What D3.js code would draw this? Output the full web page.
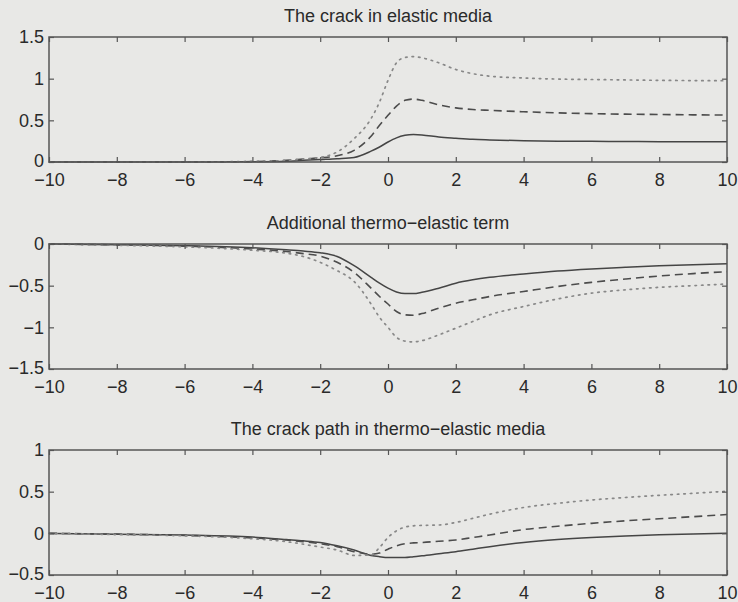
<!DOCTYPE html>
<html>
<head>
<meta charset="utf-8">
<script src="https://cdn.jsdelivr.net/npm/d3@7"></script>
<style>
  body { margin: 0; background: #e8e8e6; }
  svg { display: block; }
  text { font-family: "Liberation Sans", Arial, sans-serif; font-size: 18px; fill: #2a2a2a; }
</style>
</head>
<body>
<div id="chart"></div>
<script>
'use strict';

// sample positions along the crack (x)
const xs = [-10, -8, -6, -4, -3, -2.5, -2, -1.5, -1, -0.5, -0.25, 0, 0.25, 0.5, 0.75, 1, 1.5, 2, 2.5, 3, 4, 5, 6, 7, 8, 9, 10];

// panel 1: the crack in elastic media
const elasticSolid  = [0, 0, 0, 0.003, 0.01, 0.02, 0.03, 0.04, 0.055, 0.13, 0.18, 0.24, 0.29, 0.32, 0.33, 0.325, 0.3, 0.285, 0.272, 0.265, 0.255, 0.25, 0.248, 0.246, 0.244, 0.243, 0.242];
const elasticDashed = [0, 0, 0, 0.005, 0.02, 0.035, 0.05, 0.075, 0.14, 0.31, 0.44, 0.56, 0.67, 0.74, 0.755, 0.74, 0.685, 0.65, 0.63, 0.62, 0.603, 0.59, 0.58, 0.574, 0.57, 0.566, 0.563];
const elasticDotted = [0, 0, 0, 0.008, 0.02, 0.035, 0.055, 0.12, 0.28, 0.52, 0.72, 0.98, 1.19, 1.255, 1.265, 1.25, 1.19, 1.11, 1.06, 1.03, 1.008, 0.995, 0.99, 0.985, 0.98, 0.977, 0.975];

// panel 2: additional thermo-elastic term
const thermoSolid  = [0, -0.01, -0.02, -0.045, -0.07, -0.085, -0.105, -0.15, -0.26, -0.4, -0.47, -0.53, -0.575, -0.595, -0.595, -0.58, -0.53, -0.47, -0.43, -0.4, -0.36, -0.325, -0.3, -0.28, -0.262, -0.248, -0.236];
const thermoDashed = [0, -0.01, -0.025, -0.06, -0.09, -0.115, -0.145, -0.22, -0.34, -0.53, -0.63, -0.72, -0.81, -0.85, -0.855, -0.835, -0.77, -0.71, -0.67, -0.63, -0.57, -0.51, -0.46, -0.42, -0.384, -0.355, -0.332];
const thermoDotted = [0, -0.015, -0.035, -0.075, -0.11, -0.15, -0.22, -0.32, -0.45, -0.72, -0.88, -1.0, -1.12, -1.165, -1.175, -1.16, -1.09, -1.01, -0.93, -0.85, -0.75, -0.66, -0.59, -0.55, -0.52, -0.5, -0.48];

// panel 3: the crack path in thermo-elastic media
const pathSolid  = [0, -0.01, -0.02, -0.045, -0.075, -0.09, -0.11, -0.15, -0.2, -0.265, -0.28, -0.29, -0.29, -0.29, -0.28, -0.27, -0.245, -0.22, -0.19, -0.16, -0.11, -0.075, -0.05, -0.032, -0.018, -0.008, 0];
const pathDashed = [0, -0.01, -0.025, -0.055, -0.08, -0.1, -0.125, -0.16, -0.22, -0.25, -0.235, -0.19, -0.15, -0.125, -0.115, -0.11, -0.095, -0.08, -0.05, -0.02, 0.045, 0.085, 0.12, 0.15, 0.175, 0.2, 0.226];
const pathDotted = [0, -0.015, -0.03, -0.065, -0.1, -0.13, -0.165, -0.2, -0.265, -0.26, -0.17, -0.05, 0.03, 0.075, 0.09, 0.095, 0.1, 0.13, 0.18, 0.23, 0.31, 0.36, 0.4, 0.43, 0.456, 0.48, 0.505];

const titles = ['The crack in elastic media', 'Additional thermo\u2212elastic term', 'The crack path in thermo\u2212elastic media'];
const xTicks = [-10, -8, -6, -4, -2, 0, 2, 4, 6, 8, 10];
const yTicks1 = [0, 0.5, 1, 1.5];
const yTicks2 = [-1.5, -1, -0.5, 0];
const yTicks3 = [-0.5, 0, 0.5, 1];

const width = 738, height = 602;
const left = 49, right = 727, plotH = 125;
const tops = [37, 244, 450];

const panels = [
  { title: titles[0], yTicks: yTicks1, series: [elasticSolid, elasticDashed, elasticDotted] },
  { title: titles[1], yTicks: yTicks2, series: [thermoSolid, thermoDashed, thermoDotted] },
  { title: titles[2], yTicks: yTicks3, series: [pathSolid, pathDashed, pathDotted] },
];

const styles = [
  { color: '#454545', dash: null, w: 1.5 },
  { color: '#4c4c4c', dash: '8,5', w: 1.6 },
  { color: '#888', dash: '1.5,5', w: 1.7 },
];

function fmt(v) {
  return String(v).replace('-', '\u2212');
}

let svg = d3.select('#chart').append('svg')
  .attr('width', width)
  .attr('height', height);

let x = d3.scaleLinear().domain([-10, 10]).range([left, right]);

panels.forEach((p, i) => {
  let top = tops[i];
  let y = d3.scaleLinear()
    .domain(d3.extent(p.yTicks))
    .range([top + plotH, top]);

  let g = svg.append('g');

  // title
  g.append('text')
    .attr('x', (left + right) / 2)
    .attr('y', top - 15)
    .attr('text-anchor', 'middle')
    .text(p.title);

  // curves
  let line = d3.line()
    .x((d, k) => x(xs[k]))
    .y((d) => y(d))
    .curve(d3.curveMonotoneX);

  p.series.forEach((s, k) => {
    g.append('path')
      .datum(s)
      .attr('d', line)
      .attr('fill', 'none')
      .attr('stroke', styles[k].color)
      .attr('stroke-width', styles[k].w)
      .attr('stroke-dasharray', styles[k].dash)
      .attr('stroke-linecap', k == 2 ? 'round' : 'butt');
  });

  // axes: ticks pointing inwards on all four sides
  let bottomAxis = d3.axisBottom(x).tickValues(xTicks).tickSizeInner(-5).tickSizeOuter(0).tickFormat(fmt);
  let topAxis = d3.axisTop(x).tickValues(xTicks).tickSizeInner(-5).tickSizeOuter(0).tickFormat('');
  let leftAxis = d3.axisLeft(y).tickValues(p.yTicks).tickSizeInner(-5).tickSizeOuter(0).tickFormat(fmt);
  let rightAxis = d3.axisRight(y).tickValues(p.yTicks).tickSizeInner(-5).tickSizeOuter(0).tickFormat('');

  let bx = g.append('g').attr('transform', 'translate(0,' + (top + plotH) + ')').call(bottomAxis);
  bx.selectAll('text').attr('y', 18).attr('dy', '0.32em');
  g.append('g').attr('transform', 'translate(0,' + top + ')').call(topAxis);
  let ly = g.append('g').attr('transform', 'translate(' + left + ',0)').call(leftAxis);
  ly.selectAll('text').attr('x', -5);
  // lowest y label sits right above the -10 label, lift it a touch
  ly.selectAll('.tick:first-of-type text').attr('dy', '0.25em');
  g.append('g').attr('transform', 'translate(' + right + ',0)').call(rightAxis);

  g.selectAll('.domain').remove();
  g.selectAll('.tick line').attr('stroke', '#555').attr('stroke-width', 1.2);
  g.selectAll('.tick text').attr('fill', '#2a2a2a');

  // box
  g.append('rect')
    .attr('x', left)
    .attr('y', top)
    .attr('width', right - left)
    .attr('height', plotH)
    .attr('fill', 'none')
    .attr('stroke', '#555')
    .attr('stroke-width', 1.5);
});

// d3 axes set their own font; put ours back
svg.selectAll('g').attr('font-family', null).attr('font-size', null);
</script>
</body>
</html>
